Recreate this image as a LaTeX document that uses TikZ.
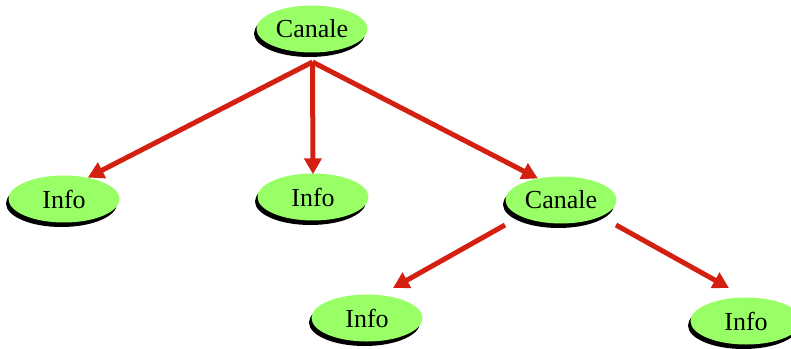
\documentclass[tikz,border=0pt]{standalone}
\usepackage{fontspec}
\setmainfont{Liberation Serif}
\usetikzlibrary{shapes.geometric,shadows,arrows.meta}
\definecolor{nodegreen}{RGB}{153,255,102}
\definecolor{arrowred}{RGB}{212,32,16}
\begin{document}
\begin{tikzpicture}[x=1pt,y=-1pt,
  blob/.style={ellipse,fill=nodegreen,minimum width=111pt,minimum height=47pt,inner sep=0pt,
    font=\fontsize{26}{30}\selectfont,
    drop shadow={shadow xshift=-2.5pt,shadow yshift=-4.5pt,fill=black,opacity=1}},
  link/.style={draw=arrowred,line width=5pt,-{Triangle[length=16pt,width=17pt]}}]
\useasboundingbox (0,0) rectangle (791,348);
\node[blob] (c1) at (312,29) {Canale};
\node[blob] (i1) at (64,199) {Info};
\node[blob] (i2) at (313,197) {Info};
\node[blob] (c2) at (561,200) {Canale};
\node[blob] (i3) at (367,318) {Info};
\node[blob] (i4) at (746,321) {Info};
\coordinate (s1) at (312.5,62);
\coordinate (s2) at (505,225);
\coordinate (s3) at (616,225);
\coordinate (t3) at (393,288);
\coordinate (t4) at (729,288);
\draw[link] (s1) -- (i1.42);
\draw[link] (s1) -- ([yshift=-1pt]i2.north);
\draw[link] (s1) -- (c2.137);
\draw[link] (s2) -- (t3);
\draw[link] (s3) -- (t4);
\end{tikzpicture}
\end{document}
